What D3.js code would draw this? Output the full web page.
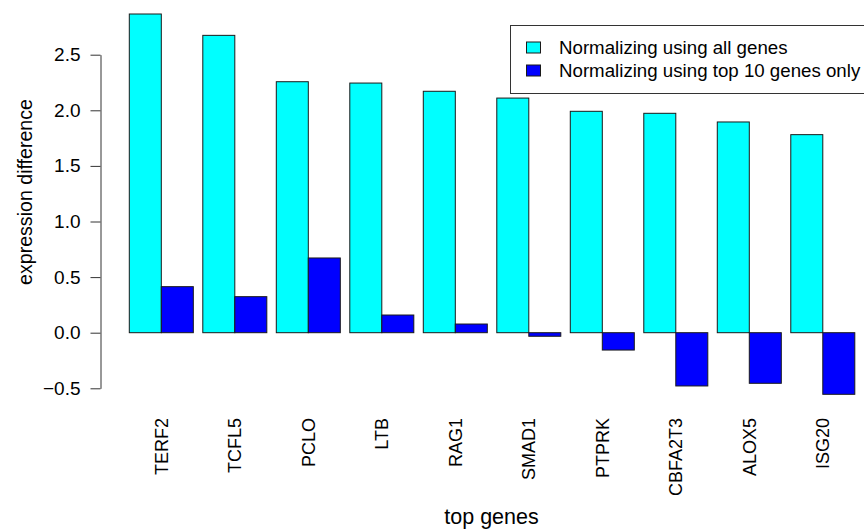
<!DOCTYPE html>
<html>
<head>
<meta charset="utf-8">
<script src="https://cdn.jsdelivr.net/npm/d3@7/dist/d3.min.js"></script>
<style>
  html, body { margin: 0; padding: 0; background: #fff; }
  svg { display: block; font-family: "Liberation Sans", Arial, Helvetica, sans-serif; }
</style>
</head>
<body>
<svg id="chart" width="864" height="531"></svg>
<script>
// Top differentially expressed genes
const genes = ["TERF2", "TCFL5", "PCLO", "LTB", "RAG1", "SMAD1", "PTPRK", "CBFA2T3", "ALOX5", "ISG20"];
// Expression difference, normalizing with all genes
const allGenes = [2.866, 2.674, 2.257, 2.245, 2.171, 2.110, 1.991, 1.973, 1.895, 1.781];
// Expression difference, normalizing with the top 10 genes only
const top10Genes = [0.414, 0.324, 0.672, 0.159, 0.078, -0.032, -0.156, -0.479, -0.455, -0.554];
const seriesNames = ["Normalizing using all genes", "Normalizing using top 10 genes only"];
const seriesColors = ["#00FFFF", "#0000FF"];
const yTicks = [-0.5, 0.0, 0.5, 1.0, 1.5, 2.0, 2.5];

const svg = d3.select("#chart");

const x0 = d3.scaleBand()
  .domain(genes)
  .range([129.3, 854.8])
  .paddingInner(0.129)
  .paddingOuter(0);

const x1 = d3.scaleBand()
  .domain([0, 1])
  .range([0, x0.bandwidth()]);

const y = d3.scaleLinear()
  .domain([-0.5, 2.5])
  .range([388.3, 54.7]);

const rows = genes.map((g, i) => ({ gene: g, values: [allGenes[i], top10Genes[i]] }));

// grouped bars
const groups = svg.append("g")
  .selectAll("g")
  .data(rows)
  .join("g")
  .attr("transform", d => `translate(${x0(d.gene)},0)`);

groups.selectAll("rect")
  .data(d => d.values.map((v, k) => ({ k, v })))
  .join("rect")
  .attr("x", d => x1(d.k))
  .attr("width", x1.bandwidth())
  .attr("y", d => y(Math.max(0, d.v)))
  .attr("height", d => Math.abs(y(d.v) - y(0)))
  .attr("fill", d => seriesColors[d.k])
  .attr("stroke", "#1a1a1a")
  .attr("stroke-width", 1);

// y axis
const yAxis = d3.axisLeft(y)
  .tickValues(yTicks)
  .tickFormat(d3.format(".1f"))
  .tickSize(10)
  .tickSizeOuter(0)
  .tickPadding(10);

const gy = svg.append("g")
  .attr("transform", "translate(100.5,0)")
  .call(yAxis);
gy.selectAll("text")
  .attr("font-size", 19)
  .attr("font-family", "Liberation Sans, Arial, Helvetica, sans-serif")
  .attr("fill", "#000");
gy.selectAll("line, path").attr("stroke", "#333");

// category labels, rotated
svg.append("g")
  .selectAll("text")
  .data(genes)
  .join("text")
  .attr("transform", d => `translate(${x0(d) + x0.bandwidth() / 2},418) rotate(-90)`)
  .attr("text-anchor", "end")
  .attr("dy", "0.35em")
  .attr("font-size", 18)
  .attr("fill", "#000")
  .text(d => d);

// axis titles
svg.append("text")
  .attr("x", 491.5)
  .attr("y", 524)
  .attr("text-anchor", "middle")
  .attr("font-size", 21.5)
  .text("top genes");

svg.append("text")
  .attr("transform", "translate(32,192) rotate(-90)")
  .attr("text-anchor", "middle")
  .attr("font-size", 19.6)
  .text("expression  difference");

// legend
const legend = svg.append("g");
legend.append("rect")
  .attr("x", 510.5)
  .attr("y", 25.5)
  .attr("width", 400)
  .attr("height", 68)
  .attr("fill", "#fff")
  .attr("stroke", "#333")
  .attr("stroke-width", 1);

const items = legend.selectAll("g.item")
  .data(seriesNames)
  .join("g")
  .attr("class", "item")
  .attr("transform", (d, i) => `translate(0,${47.5 + i * 23})`);

items.append("rect")
  .attr("x", 526.5)
  .attr("y", -5.5)
  .attr("width", 14)
  .attr("height", 11)
  .attr("fill", (d, i) => seriesColors[i])
  .attr("stroke", "#1a1a1a");

items.append("text")
  .attr("x", 559)
  .attr("y", 0)
  .attr("dy", "0.35em")
  .attr("font-size", 18.7)
  .text(d => d);
</script>
</body>
</html>
